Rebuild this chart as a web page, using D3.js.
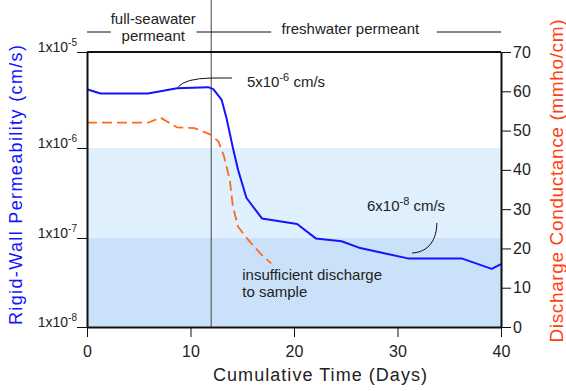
<!DOCTYPE html>
<meta charset="utf-8">
<style>
body { margin: 0; background: #fff; }
svg text { font-family: "Liberation Sans", Arial, sans-serif; fill: #222; }
.axis path, .axis line { stroke: #111; }
</style>
<svg width="566" height="391"></svg>
<script src="https://d3js.org/d3.v7.min.js"></script>
<script>

// permeability (blue, log scale, left axis)
var permDays  = [0, 1.3, 5.9, 8.7, 11.7, 12.2, 13.0, 13.5, 14.1, 14.6, 15.4, 16.9, 20.3, 22.1, 24.6, 26.4, 31.0, 36.2, 39.1, 40.0];
var permVals  = [4.1e-6, 3.7e-6, 3.7e-6, 4.2e-6, 4.3e-6, 4.1e-6, 3.2e-6, 2.0e-6, 1.0e-6, 5.7e-7, 2.8e-7, 1.65e-7, 1.43e-7, 9.9e-8, 9.2e-8, 7.7e-8, 5.9e-8, 5.9e-8, 4.5e-8, 5.1e-8];

// discharge conductance (orange dashed, right axis)
var condDays  = [0, 5.9, 7.1, 8.7, 10.4, 12.0, 12.7, 13.2, 13.8, 14.1, 14.6, 15.6, 16.9, 17.8];
var condVals  = [52, 52, 53.3, 50.8, 50.6, 48.9, 47.2, 43.8, 37.4, 30.6, 25.5, 22.1, 18.3, 16.2];

var dayTicks  = [0, 10, 20, 30, 40];
var permTicks = [1e-8, 1e-7, 1e-6, 1e-5];
var permExp   = ["-8", "-7", "-6", "-5"];
var condTicks = [0, 10, 20, 30, 40, 50, 60, 70];

var switchDay = 12;   // change from seawater to freshwater permeant

var svg = d3.select("svg");
var margin = {top: 52, right: 65, bottom: 64, left: 87},
    width = 566,
    height = 391,
    plotB = height - margin.bottom,
    plotR = width - margin.right;

var x = d3.scaleLinear().domain([0, 40]).range([margin.left, plotR]);
// decades are not quite evenly spaced in the original figure
var yPerm = d3.scaleLog().domain(permTicks).range([plotB, 238, 148, margin.top]);
var yCond = d3.scaleLinear().domain([0, 70]).range([plotB, margin.top]);

// dithered band fills
var defs = svg.append("defs");
function dither(id, base, dot) {
  var p = defs.append("pattern").attr("id", id)
    .attr("width", 2).attr("height", 2).attr("patternUnits", "userSpaceOnUse");
  p.append("rect").attr("width", 2).attr("height", 2).attr("fill", base);
  p.append("rect").attr("width", 1).attr("height", 1).attr("fill", dot);
  p.append("rect").attr("x", 1).attr("y", 1).attr("width", 1).attr("height", 1).attr("fill", dot);
}
dither("bandLight", "#e8f4fe", "#d6ebfc");
dither("bandDark", "#d4e7fb", "#c0dbf7");

svg.append("rect")
  .attr("x", x(0)).attr("width", x(40) - x(0))
  .attr("y", yPerm(1e-6)).attr("height", yPerm(1e-7) - yPerm(1e-6))
  .attr("fill", "url(#bandLight)");
svg.append("rect")
  .attr("x", x(0)).attr("width", x(40) - x(0))
  .attr("y", yPerm(1e-7)).attr("height", yPerm(1e-8) - yPerm(1e-7))
  .attr("fill", "url(#bandDark)");

// divider line
svg.append("line")
  .attr("x1", x(switchDay)).attr("x2", x(switchDay))
  .attr("y1", 0).attr("y2", plotB)
  .attr("stroke", "#444").attr("stroke-width", 1);

// header
var headLines = [[0, 2.3], [10.6, 17.8], [33.8, 40]];
svg.selectAll(".hline").data(headLines).enter().append("line")
  .attr("x1", function(d) { return x(d[0]); })
  .attr("x2", function(d) { return x(d[1]); })
  .attr("y1", 32).attr("y2", 32)
  .attr("stroke", "#111").attr("stroke-width", 1);

svg.append("text").attr("x", x(6.4)).attr("y", 24).attr("text-anchor", "middle")
  .style("font-size", "15px").text("full-seawater");
svg.append("text").attr("x", x(6.4)).attr("y", 41).attr("text-anchor", "middle")
  .style("font-size", "15px").text("permeant");
svg.append("text").attr("x", x(25.45)).attr("y", 34).attr("text-anchor", "middle")
  .style("font-size", "15px").text("freshwater permeant");

// series
var permLine = d3.line()
  .x(function(d, i) { return x(permDays[i]); })
  .y(function(d) { return yPerm(d); });
var condLine = d3.line()
  .x(function(d, i) { return x(condDays[i]); })
  .y(function(d) { return yCond(d); });

svg.append("path").datum(condVals)
  .attr("d", condLine)
  .attr("fill", "none").attr("stroke", "#ff6a1a")
  .attr("stroke-width", 1.8).attr("stroke-dasharray", "10,5");

svg.append("path").datum(permVals)
  .attr("d", permLine)
  .attr("fill", "none").attr("stroke", "#1414ff")
  .attr("stroke-width", 2).attr("stroke-linejoin", "round");

// annotations
function leader(d) {
  return d;
}
var p0 = [x(8.8), yPerm(4.32e-6)], pc = [x(9.5), yPerm(5.3e-6)],
    p1 = [x(12), yPerm(5.36e-6)], p2 = [x(14), yPerm(5.36e-6)];
svg.append("path")
  .attr("d", "M" + p0 + "Q" + pc + " " + p1 + "L" + p2)
  .attr("fill", "none").attr("stroke", "#111").attr("stroke-width", 1);

var q0 = [x(33.8), yPerm(1.47e-7)], qc1 = [x(33.8), yPerm(9.6e-8)],
    qc2 = [x(33.0), yPerm(6.9e-8)], q1 = [x(31.4), yPerm(6.78e-8)];
svg.append("path")
  .attr("d", "M" + q0 + "C" + qc1 + " " + qc2 + " " + q1)
  .attr("fill", "none").attr("stroke", "#111").attr("stroke-width", 1);

function sciLabel(xp, yp, mant, exp, unit) {
  var t = svg.append("text").attr("x", xp).attr("y", yp).style("font-size", "15px");
  t.append("tspan").text(mant + "x10");
  t.append("tspan").attr("dy", -6).style("font-size", "11px").text(exp);
  t.append("tspan").attr("dy", 6).text(" " + unit);
}
sciLabel(x(15.45), yCond(61.1), "5", "-6", "cm/s");
sciLabel(x(27.05), yCond(29.6), "6", "-8", "cm/s");

svg.append("text").attr("x", x(15.0)).attr("y", yCond(12))
  .style("font-size", "15px").text("insufficient discharge");
svg.append("text").attr("x", x(15.0)).attr("y", yCond(7.6))
  .style("font-size", "15px").text("to sample");

// axes
var gBottom = svg.append("g").attr("class", "axis")
  .attr("transform", "translate(0," + plotB + ")")
  .call(d3.axisBottom(x).tickValues(dayTicks).tickSize(10).tickSizeOuter(0).tickPadding(9));
gBottom.selectAll("text").style("font-size", "16px").attr("font-family", null);

var gRight = svg.append("g").attr("class", "axis")
  .attr("transform", "translate(" + plotR + ",0)")
  .call(d3.axisRight(yCond).tickValues(condTicks).tickSize(10).tickSizeOuter(0).tickPadding(2));
gRight.selectAll("text").style("font-size", "16px");

var gLeft = svg.append("g").attr("class", "axis")
  .attr("transform", "translate(" + margin.left + ",0)")
  .call(d3.axisLeft(yPerm).tickValues(permTicks).tickSize(10).tickSizeOuter(0).tickFormat(""));

svg.selectAll(".axis path.domain").attr("stroke-width", 2);
svg.selectAll(".axis text").attr("font-family", null).attr("fill", "#222");

permTicks.forEach(function(v, i) {
  var t = svg.append("text").attr("x", margin.left - 10).attr("y", yPerm(v))
    .attr("text-anchor", "end").style("font-size", "14px");
  t.append("tspan").text("1x10");
  t.append("tspan").attr("dy", -6).style("font-size", "10px").text(permExp[i]);
});

// top frame
svg.append("line")
  .attr("x1", x(0)).attr("x2", x(40))
  .attr("y1", margin.top).attr("y2", margin.top)
  .attr("stroke", "#111").attr("stroke-width", 2);

// axis titles
svg.append("text")
  .attr("x", 213).attr("y", 381)
  .attr("textLength", 214).attr("lengthAdjust", "spacing")
  .style("font-size", "18px").text("Cumulative Time (Days)");

svg.append("text")
  .attr("transform", "translate(22,185) rotate(-90)")
  .attr("text-anchor", "middle")
  .attr("textLength", 280).attr("lengthAdjust", "spacing")
  .style("font-size", "18px").style("fill", "#1414ff")
  .text("Rigid-Wall Permeability (cm/s)");

svg.append("text")
  .attr("transform", "translate(563,181) rotate(-90)")
  .attr("text-anchor", "middle")
  .attr("textLength", 323).attr("lengthAdjust", "spacing")
  .style("font-size", "19px").style("fill", "#ff4010")
  .text("Discharge Conductance (mmho/cm)");

</script>
